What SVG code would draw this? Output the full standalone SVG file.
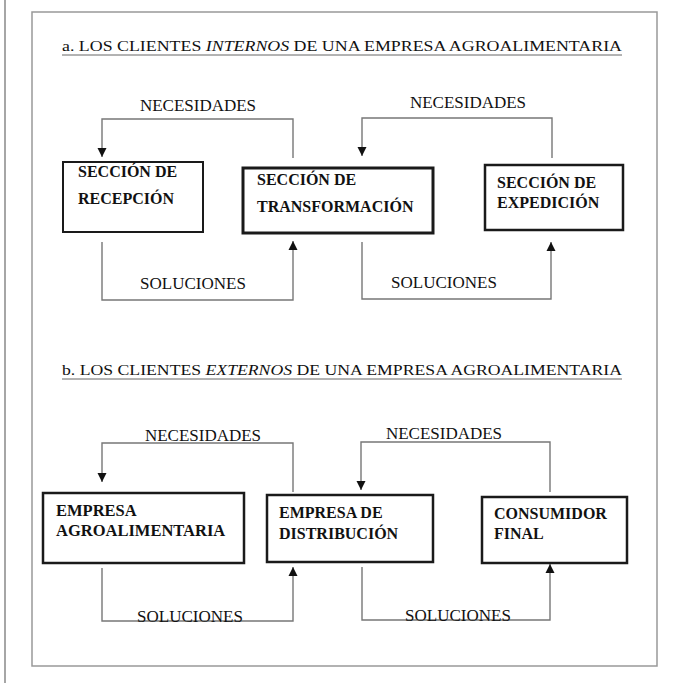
<svg xmlns="http://www.w3.org/2000/svg" width="675" height="685" viewBox="0 0 675 685">
<defs>
<style>
text{font-family:"Liberation Serif","Times New Roman",serif;fill:#111}
.title{font-size:15px}
.lbl{font-size:17px}
.box text{font-size:16px;font-weight:bold}
.box rect{fill:#fff;stroke:#1a1a1a}
.conn path{fill:none;stroke:#777;stroke-width:1.4}
.frame{fill:none;stroke:#999;stroke-width:1.5}
.ul{stroke:#666;stroke-width:1}
</style>
<marker id="ah" viewBox="0 0 10 10" refX="10" refY="5" markerWidth="9" markerHeight="10" markerUnits="userSpaceOnUse" orient="auto">
<path d="M0,0 L10,5 L0,10 z" fill="#111"/>
</marker>
</defs>
<rect width="675" height="685" fill="#fff"/>
<line x1="5" y1="0" x2="5" y2="683" stroke="#888" stroke-width="1.5"/>
<rect class="frame" x="32" y="12" width="625" height="654"/>

<g id="title-a">
<text class="title" x="62" y="51" textLength="560" lengthAdjust="spacingAndGlyphs">a. LOS CLIENTES <tspan font-style="italic">INTERNOS</tspan> DE UNA EMPRESA AGROALIMENTARIA</text>
<line class="ul" x1="62" y1="55" x2="622" y2="55"/>
</g>
<g id="title-b">
<text class="title" x="62" y="375" textLength="560" lengthAdjust="spacingAndGlyphs">b. LOS CLIENTES <tspan font-style="italic">EXTERNOS</tspan> DE UNA EMPRESA AGROALIMENTARIA</text>
<line class="ul" x1="62" y1="379" x2="622" y2="379"/>
</g>

<g id="connectors" class="conn">
<path d="M293,158 V119 H102 V157" marker-end="url(#ah)"/>
<path d="M552,158 V118 H362 V156" marker-end="url(#ah)"/>
<path d="M102,242 V300 H293 V241" marker-end="url(#ah)"/>
<path d="M362,242 V299 H551 V242" marker-end="url(#ah)"/>
<path d="M293,492 V443 H102 V482" marker-end="url(#ah)"/>
<path d="M550,492 V442 H361 V490" marker-end="url(#ah)"/>
<path d="M102,568 V621 H293 V567" marker-end="url(#ah)"/>
<path d="M362,567 V620 H550 V564" marker-end="url(#ah)"/>
</g>

<g id="labels">
<text class="lbl" x="198" y="111" text-anchor="middle">NECESIDADES</text>
<text class="lbl" x="468" y="108" text-anchor="middle">NECESIDADES</text>
<text class="lbl" x="193" y="289" text-anchor="middle">SOLUCIONES</text>
<text class="lbl" x="444" y="288" text-anchor="middle">SOLUCIONES</text>
<text class="lbl" x="203" y="441" text-anchor="middle">NECESIDADES</text>
<text class="lbl" x="444" y="439" text-anchor="middle">NECESIDADES</text>
<text class="lbl" x="190" y="622" text-anchor="middle">SOLUCIONES</text>
<text class="lbl" x="458" y="621" text-anchor="middle">SOLUCIONES</text>
</g>

<g id="recepcion" class="box">
<rect x="63" y="162" width="140" height="70" stroke-width="2"/>
<text x="78" y="177">SECCIÓN DE</text>
<text x="78" y="204">RECEPCIÓN</text>
</g>
<g id="transformacion" class="box">
<rect x="243" y="168" width="190" height="65" stroke-width="3"/>
<text x="257" y="185">SECCIÓN DE</text>
<text x="257" y="212">TRANSFORMACIÓN</text>
</g>
<g id="expedicion" class="box">
<rect x="485" y="165" width="138" height="65" stroke-width="2.5"/>
<text x="497" y="188">SECCIÓN DE</text>
<text x="497" y="208">EXPEDICIÓN</text>
</g>
<g id="empresa-agro" class="box">
<rect x="43" y="493" width="201" height="70" stroke-width="2.5"/>
<text x="56" y="516" style="font-size:16.5px">EMPRESA</text>
<text x="56" y="536" style="font-size:16.5px">AGROALIMENTARIA</text>
</g>
<g id="empresa-dist" class="box">
<rect x="267" y="495" width="166" height="67" stroke-width="2.5"/>
<text x="279" y="518">EMPRESA DE</text>
<text x="279" y="539">DISTRIBUCIÓN</text>
</g>
<g id="consumidor" class="box">
<rect x="482" y="497" width="145" height="66" stroke-width="2.5"/>
<text x="494" y="519">CONSUMIDOR</text>
<text x="494" y="539">FINAL</text>
</g>
</svg>
